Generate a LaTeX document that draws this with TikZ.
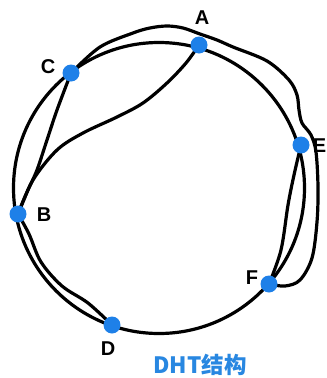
\documentclass[tikz,border=0pt]{standalone}
\usepackage{fontspec}
\setmainfont{Liberation Sans}
\newfontfamily\cjk{Noto Sans CJK SC}
\definecolor{dotblue}{RGB}{30,128,232}
\definecolor{txtblue}{RGB}{40,135,225}
\pgfdeclarelayer{bg}
\pgfsetlayers{bg,main}
\begin{document}
\begin{tikzpicture}[x=1pt,y=-1pt,
  stroke/.style={line width=3.2pt, line cap=round, line join=round},
  dot/.style={circle, fill=dotblue, minimum size=17pt, inner sep=0pt},
  lbl/.style={font=\fontsize{20}{20}\selectfont\bfseries, inner sep=0pt},
  title/.style={font=\cjk\fontsize{22.5}{22.5}\selectfont\bfseries, text=txtblue, inner sep=0pt}]
\useasboundingbox (0,0) rectangle (327,378);
% nodes (dots)
\node[dot] (A) at (199,45) {};
\node[dot] (C) at (71,73) {};
\node[dot] (B) at (18,214) {};
\node[dot] (D) at (112,325) {};
\node[dot] (F) at (269,284) {};
\node[dot] (E) at (301,145) {};
% labels
\node[lbl] (lA) at (202,18) {A};
\node[lbl] (lC) at (48,67) {C};
\node[lbl] (lB) at (44,215) {B};
\node[lbl] (lD) at (108,349) {D};
\node[lbl] (lF) at (252,278) {F};
\node[lbl] (lE) at (319.5,146) {E};
\node[title] (t) at (200,365) {DHT结构};
\begin{pgfonlayer}{bg}
\fill[white] (0,0) rectangle (327,378);
\node[draw, circle, line width=3.2pt, minimum size=291pt, inner sep=0pt] (ring) at (159,188) {};
% outer line C over A, outside E, to F
\draw[stroke] plot[smooth, tension=0.55] coordinates {(C) (100,47) (133,33) (150,28) (167,26) (183,28) (200,34) (217,40) (233,47) (267,61) (289,80) (297,95) (299,110) (302,123) (311,135) (316,152) (318,187) (317,222) (312,258) (300,280) (285,286) (F)};
% B to A
\draw[stroke] plot[smooth, tension=0.55] coordinates {(B) (33,180) (57,150) (83,133) (117,117) (143,103) (167,83) (186,63) (A)};
% C to B
\draw[stroke] plot[smooth, tension=0.55] coordinates {(C) (57,110) (47,140) (37,170) (28,190) (B)};
% B to D inner
\draw[stroke] plot[smooth, tension=0.55] coordinates {(B) (29,234) (41,262) (62,286) (88,303) (D)};
% E to F inner
\draw[stroke] plot[smooth, tension=0.55] coordinates {(E) (294,175) (288,205) (281,250) (F)};
\end{pgfonlayer}
\end{tikzpicture}
\end{document}
